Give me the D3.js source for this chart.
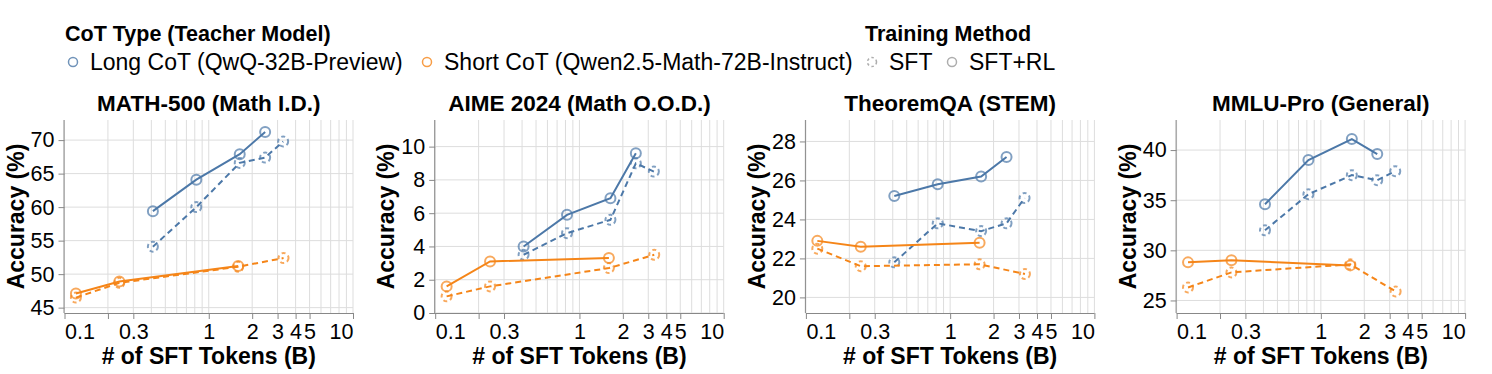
<!DOCTYPE html>
<html>
<head>
<meta charset="utf-8">
<script src="https://cdn.jsdelivr.net/npm/d3@7"></script>
<style>
    body { margin: 0; background: #fff; }
    text { font-family: "Liberation Sans", Arial, sans-serif; fill: #000; }
</style>
</head>
<body>
<div id="graph"></div>
<script>
//chart values
var panelTitles = ["MATH-500 (Math I.D.)", "AIME 2024 (Math O.O.D.)", "TheoremQA (STEM)", "MMLU-Pro (General)"];

//x values (billions of SFT tokens)
var xLongRL = [0.41, 0.82, 1.64, 2.46];
var xLongSFT = [0.41, 0.82, 1.64, 2.46, 3.28];
var xShortRL = [0.12, 0.24, 1.6];
var xShortSFT = [0.12, 0.24, 1.6, 3.3];

//accuracy per panel
var longRL = [
    [59.4, 64.1, 67.9, 71.2],
    [4.0, 5.9, 6.9, 9.6],
    [25.2, 25.8, 26.2, 27.2],
    [34.6, 39.0, 41.1, 39.6]
];
var longSFT = [
    [54.1, 60.0, 66.6, 67.4, 69.8],
    [3.5, 4.8, 5.6, 9.0, 8.5],
    [21.8, 23.8, 23.4, 23.8, 25.1],
    [32.0, 35.6, 37.5, 37.0, 37.9]
];
var shortRL = [
    [47.1, 48.9, 51.2],
    [1.6, 3.1, 3.3],
    [22.9, 22.6, 22.8],
    [28.8, 29.0, 28.5]
];
var shortSFT = [
    [46.5, 48.7, 51.1, 52.4],
    [1.0, 1.6, 2.7, 3.5],
    [22.5, 21.6, 21.7, 21.2],
    [26.3, 27.8, 28.6, 25.9]
];

//axis domains and ticks
var yDomains = [[44.2, 73.0], [0, 11.6], [19.2, 29.1], [23.75, 43.0]];
var yTicks = [[45, 50, 55, 60, 65, 70], [0, 2, 4, 6, 8, 10], [20, 22, 24, 26, 28], [25, 30, 35, 40]];
var xDomain = [0.1, 10];
var xGrid = [0.1, 0.2, 0.3, 0.4, 0.5, 0.6, 0.7, 0.8, 0.9, 1, 2, 3, 4, 5, 6, 7, 8, 9, 10];
var xTickMarks = [0.1, 0.2, 0.3, 1, 2, 3, 4, 5, 10];
var xLabels = [0.1, 0.3, 1, 2, 3, 4, 5, 10];

var blue = "#4c78a8", orange = "#f58518";

var width = 1492, height = 374;
var plotW = 288.5, plotTop = 120, plotBottom = 313;

const svg = d3.select("#graph").append("svg")
    .attr("width", width)
    .attr("height", height);

//legend
function drawLegend() {
    const lg = svg.append("g");
    lg.append("text").attr("x", 65).attr("y", 41)
        .attr("font-size", "21.5px").attr("font-weight", "bold")
        .text("CoT Type (Teacher Model)");
    lg.append("text").attr("x", 865).attr("y", 41)
        .attr("font-size", "21.5px").attr("font-weight", "bold")
        .text("Training Method");

    var items = [
        {x: 73, label: "Long CoT (QwQ-32B-Preview)", color: blue, dash: null},
        {x: 427, label: "Short CoT (Qwen2.5-Math-72B-Instruct)", color: orange, dash: null},
        {x: 872, label: "SFT", color: "#999", dash: "2.5,2.5"},
        {x: 952, label: "SFT+RL", color: "#999", dash: null}
    ];
    items.forEach(function(d) {
        lg.append("circle")
            .attr("cx", d.x).attr("cy", 62).attr("r", 4.5)
            .attr("fill", "none")
            .attr("stroke", d.color)
            .attr("stroke-width", 1.5)
            .attr("stroke-opacity", 0.8)
            .attr("stroke-dasharray", d.dash);
        lg.append("text")
            .attr("x", d.x + 17).attr("y", 70)
            .attr("font-size", "23px")
            .text(d.label);
    });
}

//draw one panel
function drawPanel(i) {
    const left = 64.5 + i * 370.7;
    const g = svg.append("g");

    const x = d3.scaleLog().domain(xDomain).range([left, left + plotW]);
    const y = d3.scaleLinear().domain(yDomains[i]).range([plotBottom, plotTop]);

    //grid
    g.append("g").selectAll("line")
        .data(xGrid)
        .enter().append("line")
        .attr("x1", function(d){ return x(d); })
        .attr("x2", function(d){ return x(d); })
        .attr("y1", plotTop).attr("y2", plotBottom)
        .attr("stroke", "#ddd").attr("stroke-width", 1);
    g.append("g").selectAll("line")
        .data(yTicks[i])
        .enter().append("line")
        .attr("x1", left).attr("x2", left + plotW)
        .attr("y1", function(d){ return y(d); })
        .attr("y2", function(d){ return y(d); })
        .attr("stroke", "#ddd").attr("stroke-width", 1);

    //x axis
    const xAxis = d3.axisBottom(x)
        .tickValues(xTickMarks)
        .tickSize(6)
        .tickPadding(4)
        .tickFormat(function(d){ return xLabels.indexOf(d) >= 0 ? d3.format("~g")(d) : ""; });
    const xg = g.append("g")
        .attr("transform", "translate(0," + plotBottom + ")")
        .call(xAxis);
    xg.select(".domain").attr("stroke", "#888").attr("d", "M" + left + ",0.5H" + (left + plotW));
    xg.selectAll(".tick line").attr("stroke", "#888");
    xg.selectAll(".tick text")
        .attr("font-size", "21.5px")
        .attr("font-family", "Liberation Sans, Arial, sans-serif")
        .attr("fill", "#000")
        .attr("dy", "0.74em")
        .attr("text-anchor", function(d){ return d === 0.1 ? "start" : (d === 10 ? "end" : "middle"); });

    //y axis
    const yAxis = d3.axisLeft(y)
        .tickValues(yTicks[i])
        .tickSize(6)
        .tickPadding(4);
    const yg = g.append("g")
        .attr("transform", "translate(" + left + ",0)")
        .call(yAxis);
    yg.select(".domain").attr("stroke", "#888").attr("d", "M-0.5," + plotTop + "V" + plotBottom);
    yg.selectAll(".tick line").attr("stroke", "#888");
    yg.selectAll(".tick text")
        .attr("font-size", "21.5px")
        .attr("font-family", "Liberation Sans, Arial, sans-serif")
        .attr("fill", "#000");

    //titles
    g.append("text")
        .attr("x", left + plotW / 2).attr("y", 111)
        .attr("text-anchor", "middle")
        .attr("font-size", "22.5px").attr("font-weight", "bold")
        .text(panelTitles[i]);
    g.append("text")
        .attr("x", left + plotW / 2).attr("y", 364)
        .attr("text-anchor", "middle")
        .attr("font-size", "23px").attr("font-weight", "bold")
        .text("# of SFT Tokens (B)");
    g.append("text")
        .attr("transform", "translate(" + (left - 41) + "," + ((plotTop + plotBottom) / 2) + ") rotate(-90)")
        .attr("text-anchor", "middle")
        .attr("font-size", "23px").attr("font-weight", "bold")
        .text("Accuracy (%)");

    //series
    var series = [
        {xs: xLongSFT, ys: longSFT[i], color: blue, sft: true},
        {xs: xShortSFT, ys: shortSFT[i], color: orange, sft: true},
        {xs: xLongRL, ys: longRL[i], color: blue, sft: false},
        {xs: xShortRL, ys: shortRL[i], color: orange, sft: false}
    ];

    const line = d3.line()
        .x(function(d){ return x(d[0]); })
        .y(function(d){ return y(d[1]); });

    series.forEach(function(s) {
        var pts = s.xs.map(function(v, k){ return [v, s.ys[k]]; });
        g.append("path")
            .attr("d", line(pts))
            .attr("fill", "none")
            .attr("stroke", s.color)
            .attr("stroke-width", 2)
            .attr("stroke-dasharray", s.sft ? "6,4" : null);
        g.append("g").selectAll("circle")
            .data(pts)
            .enter().append("circle")
            .attr("cx", function(d){ return x(d[0]); })
            .attr("cy", function(d){ return y(d[1]); })
            .attr("r", 5)
            .attr("fill", "none")
            .attr("stroke", s.color)
            .attr("stroke-width", 2)
            .attr("stroke-opacity", 0.7)
            .attr("stroke-dasharray", s.sft ? "4,3" : null);
    });
}

drawLegend();
for (var i = 0; i < 4; i++) {
    drawPanel(i);
}
</script>
</body>
</html>
